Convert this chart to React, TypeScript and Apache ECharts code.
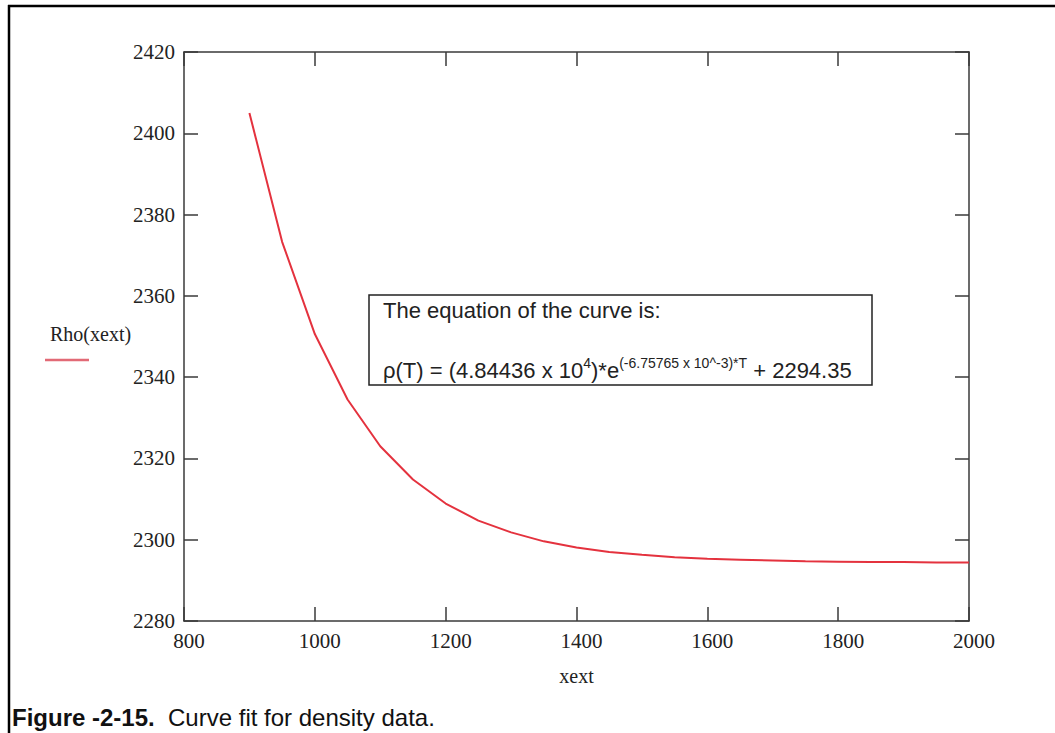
import React, { useEffect, useRef } from "react";
import * as echarts from "echarts";

// Temperature samples (xext) and fitted density values Rho(xext)
const xext: number[] = [900, 950, 1000, 1050, 1100, 1150, 1200, 1250, 1300, 1350, 1400, 1450, 1500, 1550, 1600, 1650, 1700, 1750, 1800, 1850, 1900, 1950, 2000];
const rho: number[] = [2405.0, 2373.3, 2350.6, 2334.5, 2323.0, 2314.8, 2308.9, 2304.7, 2301.8, 2299.6, 2298.1, 2297.0, 2296.3, 2295.7, 2295.3, 2295.1, 2294.9, 2294.7, 2294.6, 2294.5, 2294.5, 2294.4, 2294.4];

const xTicks = { min: 800, max: 2000, interval: 200 };
const yTicks = { min: 2280, max: 2420, interval: 20 };

const seriesName = "Rho(xext)";
const xName = "xext";
const boxLine1 = "The equation of the curve is:";
const caption = { bold: "Figure -2-15.", rest: "  Curve fit for density data." };

const SERIF = "'Liberation Serif', 'Times New Roman', serif";
const SANS = "'Liberation Sans', Arial, sans-serif";
const AXIS_COLOR = "#3a3a3a";
const CURVE_COLOR = "#e4323e";

export default function App() {
  const ref = useRef<HTMLDivElement>(null);

  useEffect(() => {
    document.body.style.margin = "0";
    if (!ref.current) return;
    const chart = echarts.init(ref.current, undefined, { renderer: "svg" });

    const axisLine = { show: true, lineStyle: { color: AXIS_COLOR, width: 1.5 } };
    const axisTick = { show: true, inside: true, length: 14, lineStyle: { color: AXIS_COLOR, width: 1.5 } };
    const labelStyle = { fontFamily: SERIF, fontSize: 21, color: "#222" };
    const plain = (v: number) => String(v);

    chart.setOption({
      animation: false,
      backgroundColor: "#fff",
      grid: { left: 184, right: 86, top: 52, bottom: 112, containLabel: false },
      xAxis: [
        {
          type: "value",
          position: "bottom",
          min: xTicks.min,
          max: xTicks.max,
          interval: xTicks.interval,
          axisLine,
          axisTick,
          splitLine: { show: false },
          axisLabel: { ...labelStyle, margin: 9, padding: [0, 0, 0, 10], formatter: plain },
          name: xName,
          nameLocation: "middle",
          nameGap: 45,
          nameTextStyle: { ...labelStyle, fontSize: 20 },
        },
        {
          type: "value",
          position: "top",
          min: xTicks.min,
          max: xTicks.max,
          interval: xTicks.interval,
          axisLine,
          axisTick,
          splitLine: { show: false },
          axisLabel: { show: false },
        },
      ],
      yAxis: [
        {
          type: "value",
          position: "left",
          min: yTicks.min,
          max: yTicks.max,
          interval: yTicks.interval,
          axisLine,
          axisTick,
          splitLine: { show: false },
          axisLabel: { ...labelStyle, margin: 9, formatter: plain },
        },
        {
          type: "value",
          position: "right",
          min: yTicks.min,
          max: yTicks.max,
          interval: yTicks.interval,
          axisLine,
          axisTick,
          splitLine: { show: false },
          axisLabel: { show: false },
        },
      ],
      series: [
        {
          name: seriesName,
          type: "line",
          xAxisIndex: 0,
          yAxisIndex: 0,
          data: xext.map((x, i) => [x, rho[i]]),
          showSymbol: false,
          symbol: "none",
          lineStyle: { color: CURVE_COLOR, width: 2 },
        },
      ],
      graphic: [
        // outer figure frame (left and top edges)
        { type: "line", shape: { x1: 9, y1: 5, x2: 9, y2: 733 }, style: { stroke: "#000", lineWidth: 2.5 } },
        { type: "line", shape: { x1: 8, y1: 6, x2: 1055, y2: 6 }, style: { stroke: "#000", lineWidth: 2.5 } },
        // legend
        {
          type: "text",
          left: 50,
          top: 324,
          style: { text: seriesName, fontFamily: SERIF, fontSize: 20, fill: "#222" },
        },
        { type: "line", shape: { x1: 45, y1: 360, x2: 89, y2: 360 }, style: { stroke: "#e26a76", lineWidth: 2.5 } },
        // equation box
        {
          type: "rect",
          shape: { x: 369, y: 295, width: 503, height: 90 },
          style: { fill: "#fff", stroke: "#222", lineWidth: 1.5 },
        },
        {
          type: "text",
          x: 383,
          y: 310,
          style: { text: boxLine1, fontFamily: SANS, fontSize: 22, fill: "#222", verticalAlign: "middle" },
        },
        {
          type: "text",
          x: 383,
          y: 370,
          style: {
            text: "{m|ρ(T) = (4.84436 x 10}{s|4}{m|)*e}{s|(-6.75765 x 10^-3)*T}{m| + 2294.35}",
            verticalAlign: "middle",
            rich: {
              m: { fontFamily: SANS, fontSize: 22, fill: "#222", lineHeight: 28, verticalAlign: "middle" },
              s: { fontFamily: SANS, fontSize: 14, fill: "#222", lineHeight: 15, verticalAlign: "top" },
            },
          },
        },
        // caption
        {
          type: "text",
          x: 12,
          y: 717,
          style: {
            text: `{b|${caption.bold}}{r|${caption.rest}}`,
            verticalAlign: "middle",
            rich: {
              b: { fontFamily: SANS, fontSize: 24, fontWeight: "bold", fill: "#111" },
              r: { fontFamily: SANS, fontSize: 24, fill: "#111" },
            },
          },
        },
      ],
    });

    return () => chart.dispose();
  }, []);

  return <div ref={ref} style={{ width: 1055, height: 733 }} />;
}
